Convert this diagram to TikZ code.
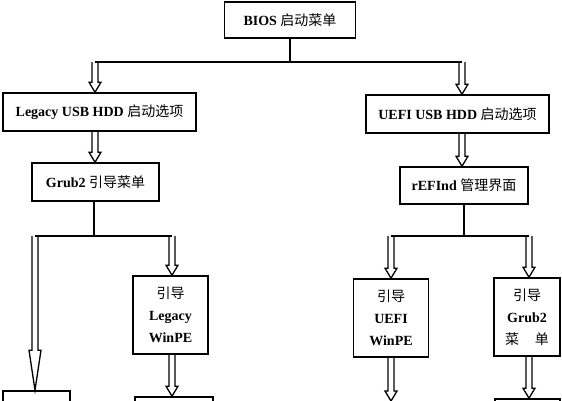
\documentclass[tikz,border=0pt]{standalone}
\usepackage{fontspec}
\setmainfont{Liberation Serif}
\newfontfamily\cjkfont{Noto Sans CJK SC}
\newcommand{\zhtext}[1]{{\cjkfont\mdseries #1}}
\usetikzlibrary{calc}
\begin{document}
\begin{tikzpicture}[x=1pt,y=-1pt,
  box/.style={draw, line width=1.6pt, inner sep=0pt, align=center,
    font=\fontsize{14}{22}\selectfont\bfseries},
  ln/.style={line width=1.6pt},
  hollow/.style={line width=1.3pt, line join=miter,
    to path={let \p1=(\tikztostart), \p2=(\tikztotarget) in
      (\x1-3pt,\y1) -- (\x1-3pt,\y2+#1) -- (\x1-6pt,\y2+#1) -- (\x1,\y2)
      -- (\x1+6pt,\y2+#1) -- (\x1+3pt,\y2+#1) -- (\x1+3pt,\y1)}},
  hollow/.default=10pt]
\useasboundingbox (0,0) rectangle (562,400);
\clip (0,0) rectangle (562,400);
\fill[white] (0,0) rectangle (562,400);

% boxes
\node[box, minimum width=131pt, minimum height=36pt] (bios) at (290,20) {BIOS \zhtext{启动菜单}};
\node[box, minimum width=193pt, minimum height=38pt] (legacy) at (99.5,112) {Legacy USB HDD \zhtext{启动选项}};
\node[box, minimum width=183pt, minimum height=38pt] (uefi) at (457.5,114) {UEFI USB HDD \zhtext{启动选项}};
\node[box, minimum width=127pt, minimum height=38pt] (grub) at (95.5,182) {Grub2 \zhtext{引导菜单}};
\node[box, minimum width=128pt, minimum height=37pt] (refind) at (464,185.5) {rEFInd \zhtext{管理界面}};
\node[box, minimum width=75pt, minimum height=78pt] (lwin) at (170.5,315) {\zhtext{引导}\\Legacy\\WinPE};
\node[box, minimum width=75pt, minimum height=78pt] (uwin) at (391,318) {\zhtext{引导}\\UEFI\\WinPE};
\node[box, minimum width=66pt, minimum height=78pt] (gmenu) at (527,317) {\zhtext{引导}\\Grub2\\\zhtext{菜\hspace{16pt}单}};
\node[box, minimum width=67pt, minimum height=40pt] (lb) at (36.5,411) {};
\node[box, minimum width=78pt, minimum height=40pt] (lwb) at (174,417) {};
\node[box, minimum width=65pt, minimum height=40pt] (gb) at (527.5,419) {};

% junctions
\coordinate (jL) at (95,62);
\coordinate (jR) at (462,62);
\coordinate (gx) at (94,0);
\coordinate (kL) at (35,236);
\coordinate (kR) at (172,236);
\coordinate (mL) at (391,236);
\coordinate (mR) at (529,236);
\coordinate (uend) at (391,401);

% top level
\draw[ln] (bios.south) -- (bios.south |- jL);
\draw[ln] (jL) -- (jR);
\draw[hollow] (jL) to (jL |- legacy.north);
\draw[hollow] (jR) to (jR |- uefi.north);
\draw[hollow] (jL |- legacy.south) to (jL |- grub.north);
\draw[hollow] (jR |- uefi.south) to (jR |- refind.north);

% left branch
\draw[ln] (gx |- grub.south) -- (gx |- kL);
\draw[ln] (kL) -- (kR);
\draw[hollow=40pt] (kL) to (kL |- lb.north);
\draw[hollow] (kR) to (kR |- lwin.north);
\draw[hollow] (kR |- lwin.south) to (kR |- lwb.north);

% right branch
\draw[ln] (refind.south) -- (refind.south |- mL);
\draw[ln] (mL) -- (mR);
\draw[hollow] (mL) to (mL |- uwin.north);
\draw[hollow] (mR) to (mR |- gmenu.north);
\draw[hollow] (mL |- uwin.south) to (uend);
\draw[hollow] (mR |- gmenu.south) to (mR |- gb.north);
\end{tikzpicture}
\end{document}
